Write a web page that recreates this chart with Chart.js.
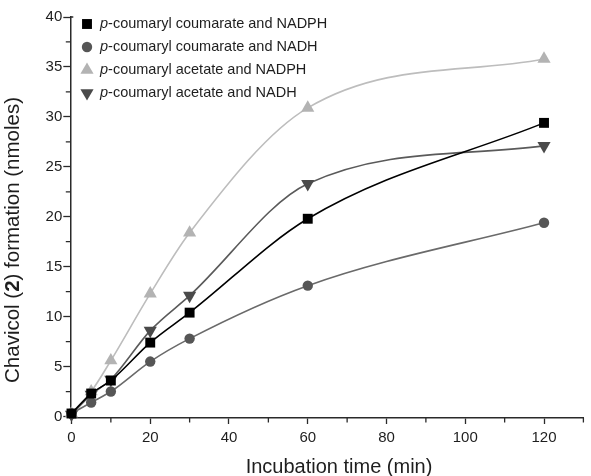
<!DOCTYPE html>
<html>
<head>
<meta charset="utf-8">
<script src="https://cdn.jsdelivr.net/npm/chart.js@4.4.1/dist/chart.umd.min.js"></script>
<style>
  html, body { margin: 0; padding: 0; background: #fff; }
  #wrap { width: 591px; height: 476px; position: relative; }
</style>
</head>
<body>
<div id="wrap"><canvas id="chavicolChart"></canvas></div>
<script>
// incubation times (min)
var times = [0, 5, 10, 20, 30, 60, 120];

// chavicol formed (nmoles)
var coumarateNADPH = [0.3, 2.3, 3.6, 7.4, 10.4, 19.8, 29.4];
var coumarateNADH = [0.3, 1.4, 2.5, 5.5, 7.8, 13.1, 19.4];
var acetateNADPH = [0.3, 2.5, 5.6, 12.3, 18.4, 30.9, 35.8];
var acetateNADH = [0.2, 2.2, 3.7, 8.6, 12.1, 23.3, 27.1];

var seriesNames = [
  "-coumaryl coumarate and NADPH",
  "-coumaryl coumarate and NADH",
  "-coumaryl acetate and NADPH",
  "-coumaryl acetate and NADH"
];

// axis ticks
var xMajorTicks = [0, 20, 40, 60, 80, 100, 120];
var xMinorTicks = [10, 30, 50, 70, 90, 110, 130];
var yMajorTicks = [0, 5, 10, 15, 20, 25, 30, 35, 40];
var yMinorTicks = [2.5, 7.5, 12.5, 17.5, 22.5, 27.5, 32.5, 37.5];

var xTitle = "Incubation time (min)";
var yTitleParts = [["Chavicol (", false], ["2", true], [") formation (nmoles)", false]];

(function () {
  "use strict";

  var FONT = '"Liberation Sans", Arial, sans-serif';
  var AXIS = "#2a2a2a";

  function pts(ys) {
    return times.map(function (t, i) { return { x: t, y: ys[i] }; });
  }

  var styles = [
    { data: coumarateNADPH, line: "#000000", fill: "#000000", pointStyle: "rect", radius: 7, rotation: 0 },
    { data: coumarateNADH, line: "#6a6a6a", fill: "#565656", pointStyle: "circle", radius: 5.2, rotation: 0 },
    { data: acetateNADPH, line: "#bdbdbd", fill: "#b3b3b3", pointStyle: "triangle", radius: 7.6, rotation: 0 },
    { data: acetateNADH, line: "#5a5a5a", fill: "#4a4a4a", pointStyle: "triangle", radius: 7.6, rotation: 180 }
  ];

  var datasets = styles.map(function (s, i) {
    return {
      label: seriesNames[i],
      data: pts(s.data),
      showLine: true,
      borderColor: s.line,
      borderWidth: 1.6,
      cubicInterpolationMode: "monotone",
      pointStyle: s.pointStyle,
      pointRotation: s.rotation,
      pointRadius: s.radius,
      pointHoverRadius: s.radius,
      pointBackgroundColor: s.fill,
      pointBorderColor: s.fill,
      pointBorderWidth: 0,
      clip: false
    };
  });

  // minor ticks, axis titles and the legend with italic "p"
  var decorPlugin = {
    id: "decor",
    afterDraw: function (chart) {
      var ctx = chart.ctx;
      var xs = chart.scales.x, ys = chart.scales.y;
      ctx.save();
      ctx.strokeStyle = AXIS;
      ctx.lineWidth = 1.3;
      ctx.beginPath();
      yMinorTicks.forEach(function (v) {
        var py = ys.getPixelForValue(v);
        ctx.moveTo(xs.left - 4.5, py);
        ctx.lineTo(xs.left, py);
      });
      xMinorTicks.forEach(function (v) {
        var px = xs.getPixelForValue(v);
        ctx.moveTo(px, ys.bottom);
        ctx.lineTo(px, ys.bottom + 4.5);
      });
      // small cap at top of y axis
      var top = ys.getPixelForValue(40);
      ctx.moveTo(xs.left, top);
      ctx.lineTo(xs.left + 3, top);
      ctx.stroke();

      ctx.fillStyle = "#1e1e1e";
      // x title
      ctx.font = "20px " + FONT;
      ctx.textAlign = "center";
      ctx.textBaseline = "alphabetic";
      ctx.fillText(xTitle, 339, 473);

      // y title
      ctx.save();
      ctx.translate(19, 240);
      ctx.rotate(-Math.PI / 2);
      ctx.textAlign = "left";
      var total = 0;
      yTitleParts.forEach(function (p) {
        ctx.font = (p[1] ? "bold " : "") + "20.5px " + FONT;
        total += ctx.measureText(p[0]).width;
      });
      var cx = -total / 2;
      yTitleParts.forEach(function (p) {
        ctx.font = (p[1] ? "bold " : "") + "20.5px " + FONT;
        ctx.fillText(p[0], cx, 0);
        cx += ctx.measureText(p[0]).width;
      });
      ctx.restore();

      // legend
      ctx.textAlign = "left";
      ctx.textBaseline = "middle";
      styles.forEach(function (s, i) {
        var ly = 24 + i * 23;
        ctx.fillStyle = s.fill;
        ctx.strokeStyle = s.fill;
        Chart.helpers.drawPoint(ctx, {
          pointStyle: s.pointStyle,
          radius: s.radius,
          rotation: s.rotation,
          borderWidth: 0
        }, 87, ly);
        ctx.fillStyle = "#1e1e1e";
        ctx.font = "italic 14.5px " + FONT;
        ctx.fillText("p", 100, ly);
        var w = ctx.measureText("p").width;
        ctx.font = "14.5px " + FONT;
        ctx.fillText(seriesNames[i], 100 + w, ly);
      });
      ctx.restore();
    }
  };

  function setTicks(values) {
    return function (scale) {
      scale.ticks = values.map(function (v) { return { value: v }; });
    };
  }

  new Chart(document.getElementById("chavicolChart"), {
    type: "scatter",
    data: { datasets: datasets },
    plugins: [decorPlugin],
    options: {
      responsive: true,
      maintainAspectRatio: false,
      animation: false,
      layout: { padding: { top: 17, right: 0.5, bottom: 0, left: 0 } },
      plugins: {
        legend: { display: false },
        tooltip: { enabled: false }
      },
      scales: {
        x: {
          type: "linear",
          min: -0.3,
          max: 130,
          afterBuildTicks: setTicks(xMajorTicks),
          afterFit: function (scale) { scale.height = 58; },
          grid: { drawOnChartArea: false, tickLength: 6, tickColor: AXIS, tickWidth: 1.3 },
          border: { display: true, color: AXIS, width: 1.5 },
          ticks: {
            color: "#1e1e1e",
            font: { family: FONT, size: 15 },
            padding: 5,
            maxRotation: 0,
            autoSkip: false
          }
        },
        y: {
          type: "linear",
          min: -0.15,
          max: 40,
          afterBuildTicks: setTicks(yMajorTicks),
          afterFit: function (scale) { scale.width = 70.3; },
          grid: { drawOnChartArea: false, tickLength: 7, tickColor: AXIS, tickWidth: 1.3 },
          border: { display: true, color: AXIS, width: 1.5 },
          ticks: {
            color: "#1e1e1e",
            font: { family: FONT, size: 15 },
            padding: 1,
            autoSkip: false
          }
        }
      }
    }
  });
})();
</script>
</body>
</html>
